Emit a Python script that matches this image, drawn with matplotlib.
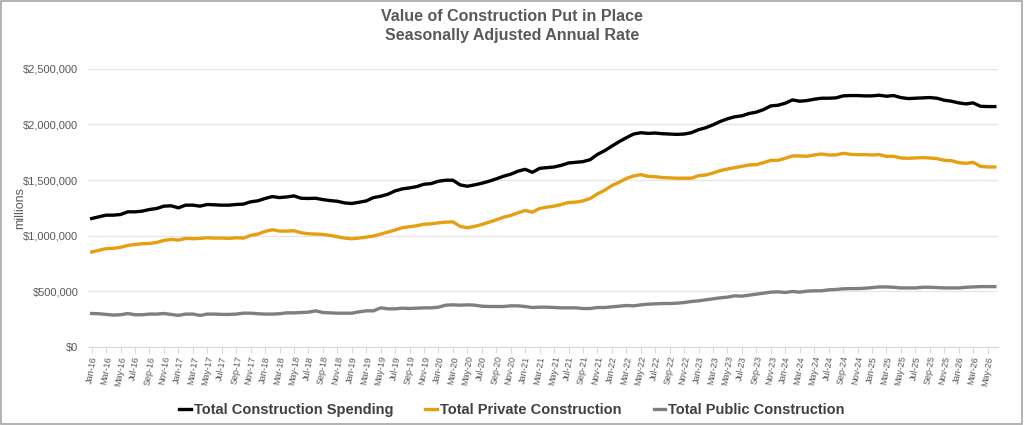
import numpy as np
import matplotlib
matplotlib.use("Agg")
import matplotlib.pyplot as plt
from matplotlib.ticker import FuncFormatter

# monthly values, $ millions (SAAR), Jan-16 .. Jun-26
total = [1155, 1170, 1185, 1185, 1191, 1215, 1215, 1221, 1236, 1245, 1266, 1269,
         1251, 1275, 1275, 1266, 1281, 1278, 1275, 1275, 1281, 1284, 1305, 1314,
         1335, 1352, 1343, 1349, 1358, 1337, 1335, 1337, 1325, 1316, 1310, 1295,
         1290, 1301, 1313, 1343, 1355, 1373, 1403, 1421, 1430, 1442, 1463, 1469,
         1490, 1499, 1499, 1457, 1445, 1457, 1472, 1490, 1511, 1535, 1553, 1580,
         1597, 1570, 1606, 1612, 1618, 1633, 1654, 1660, 1666, 1684, 1731, 1764,
         1806, 1845, 1881, 1914, 1926, 1920, 1923, 1917, 1914, 1911, 1914, 1926,
         1953, 1971, 1997, 2027, 2051, 2069, 2078, 2099, 2111, 2134, 2167, 2173,
         2191, 2221, 2209, 2215, 2227, 2236, 2236, 2239, 2257, 2260, 2260, 2257,
         2257, 2263, 2254, 2260, 2242, 2233, 2236, 2239, 2242, 2236, 2218, 2209,
         2194, 2185, 2194, 2164, 2161, 2161]
private = [854, 869, 884, 887, 896, 913, 922, 928, 931, 940, 958, 967,
           961, 976, 973, 976, 982, 979, 979, 976, 982, 979, 1003, 1015,
           1039, 1054, 1042, 1042, 1045, 1027, 1018, 1015, 1012, 1003, 991, 979,
           973, 979, 988, 997, 1015, 1033, 1051, 1072, 1081, 1090, 1104, 1107,
           1116, 1122, 1125, 1084, 1072, 1084, 1101, 1122, 1143, 1167, 1182, 1206,
           1227, 1212, 1245, 1257, 1266, 1281, 1299, 1302, 1313, 1335, 1376, 1409,
           1451, 1481, 1514, 1537, 1549, 1534, 1531, 1523, 1520, 1517, 1517, 1517,
           1540, 1546, 1564, 1585, 1600, 1612, 1624, 1636, 1639, 1657, 1678, 1678,
           1696, 1717, 1717, 1714, 1726, 1735, 1726, 1726, 1741, 1732, 1729, 1729,
           1726, 1729, 1714, 1714, 1699, 1696, 1699, 1702, 1699, 1693, 1678, 1675,
           1657, 1651, 1660, 1624, 1618, 1618]
public = [301, 299, 293, 287, 290, 301, 290, 290, 296, 296, 301, 293,
          284, 296, 296, 284, 296, 296, 293, 293, 296, 304, 304, 299,
          296, 296, 299, 307, 307, 310, 313, 325, 310, 307, 304, 304,
          304, 316, 325, 325, 352, 343, 343, 349, 346, 349, 352, 352,
          358, 376, 379, 376, 379, 376, 367, 364, 364, 364, 370, 370,
          364, 355, 358, 358, 355, 352, 352, 352, 346, 346, 355, 355,
          361, 367, 373, 370, 379, 385, 388, 391, 391, 394, 400, 409,
          415, 424, 433, 442, 448, 460, 457, 466, 475, 484, 493, 496,
          490, 499, 493, 502, 505, 505, 514, 517, 523, 525, 525, 528,
          534, 540, 540, 537, 531, 531, 531, 537, 537, 534, 531, 531,
          531, 537, 540, 543, 543, 543]

months = ["Jan", "Feb", "Mar", "Apr", "May", "Jun",
          "Jul", "Aug", "Sep", "Oct", "Nov", "Dec"]
labels = ["%s-%02d" % (months[i % 12], 16 + i // 12) for i in range(len(total))]

total = np.array(total) * 1000
private = np.array(private) * 1000
public = np.array(public) * 1000
x = np.arange(len(total))

txt = "#595959"
plt.rcParams["font.family"] = ["Liberation Sans", "DejaVu Sans"]

fig = plt.figure(figsize=(10.24, 4.25), dpi=100)
fig.patches.append(plt.Rectangle((0.001, 0.002), 0.997, 0.996, transform=fig.transFigure,
                                 fill=False, edgecolor="#a6a6a6", linewidth=1.2))
ax = fig.add_axes([0.086, 0.1835, 0.889, 0.6545])

ax.plot(x, total, color="black", lw=2.4, label="Total Construction Spending")
ax.plot(x, private, color="#E5A011", lw=2.4, label="Total Private Construction")
ax.plot(x, public, color="#7F7F7F", lw=2.4, label="Total Public Construction")

ax.set_xlim(-0.5, len(x) - 0.5)
ax.set_ylim(0, 2500000)
ax.set_yticks(np.arange(0, 2500001, 500000))
ax.yaxis.set_major_formatter(FuncFormatter(lambda v, p: "${:,.0f}".format(v)))
ax.set_xticks(x[::2])
ax.set_xticklabels(labels[::2], rotation=80, fontsize=6.5, color=txt)
ax.tick_params(axis="y", length=0, labelsize=8, colors=txt, pad=7)
ax.tick_params(axis="x", length=4, color="#d9d9d9", pad=2)
ax.grid(axis="y", color="#e6e6e6", lw=0.9)
ax.set_axisbelow(True)
for s in ["top", "right", "left"]:
    ax.spines[s].set_visible(False)
ax.spines["bottom"].set_color("#d9d9d9")
ax.set_ylabel("millions", fontsize=9, color=txt)
ax.yaxis.set_label_coords(-0.068, 0.5)

fig.suptitle("Value of Construction Put in Place\nSeasonally Adjusted Annual Rate",
             y=0.978, fontsize=11.5, fontweight="bold", color=txt, linespacing=1.3)

fig.legend(loc="lower center", bbox_to_anchor=(0.5, -0.012), ncol=3, frameon=False,
           handlelength=0.8, handletextpad=0.2, columnspacing=2.2,
           labelcolor="#404040", prop={"weight": "bold", "size": 10.5})

fig.savefig("out.png", dpi=100)
